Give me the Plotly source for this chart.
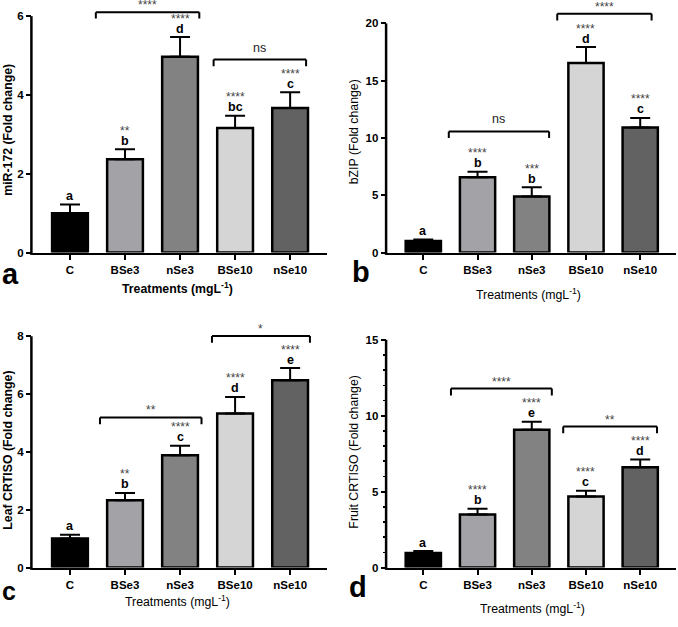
import plotly.graph_objects as go

W, H = 678, 627
FONT = "Liberation Sans, Arial, sans-serif"

# ---------------- data ----------------
categories = ["C", "BSe3", "nSe3", "BSe10", "nSe10"]
bar_colors = ["#000000", "#a3a3a7", "#828282", "#d5d5d5", "#626262"]

mir172 = [1.0, 2.37, 4.97, 3.16, 3.67]
mir172_err = [0.22, 0.25, 0.50, 0.31, 0.40]
mir172_letters = ["a", "b", "d", "bc", "c"]
mir172_stars = ["", "**", "****", "****", "****"]

bzip = [1.0, 6.57, 4.90, 16.55, 10.92]
bzip_err = [0.13, 0.48, 0.80, 1.38, 0.83]
bzip_letters = ["a", "b", "b", "d", "c"]
bzip_stars = ["", "****", "***", "****", "****"]

leaf = [1.0, 2.33, 3.88, 5.33, 6.48]
leaf_err = [0.13, 0.25, 0.33, 0.57, 0.42]
leaf_letters = ["a", "b", "c", "d", "e"]
leaf_stars = ["", "**", "****", "****", "****"]

fruit = [0.95, 3.50, 9.07, 4.68, 6.60]
fruit_err = [0.13, 0.37, 0.53, 0.38, 0.52]
fruit_letters = ["a", "b", "e", "c", "d"]
fruit_stars = ["", "****", "****", "****", "****"]

# comparison brackets: (x start, x end, bar height, leg bottom, label)
mir172_brackets = [(0.47, 2.35, 6.10, 5.94, "****"), (2.61, 4.29, 4.90, 4.73, "ns")]
bzip_brackets = [(0.47, 2.32, 10.57, 10.00, "ns"), (2.47, 4.21, 20.83, 20.25, "****")]
leaf_brackets = [(0.545, 2.39, 5.19, 4.96, "**"), (2.58, 4.36, 8.01, 7.78, "*")]
fruit_brackets = [(0.51, 2.37, 11.79, 11.33, "****"), (2.58, 4.31, 9.28, 8.85, "**")]

mir172_ticks = [0, 2, 4, 6]
bzip_ticks = [0, 5, 10, 15, 20]
leaf_ticks = [0, 2, 4, 6, 8]
fruit_ticks = [0, 5, 10, 15]
fruit_minor = list(range(0, 16))

x_title = "Treatments (mgL<sup>-1</sup>)"

# ---------------- layout geometry (pixels) ----------------
def px(x):
    return x / W

def py(y):
    return 1 - y / H

panels = [
    dict(name="a", vals=mir172, err=mir172_err, letters=mir172_letters, stars=mir172_stars,
         brackets=mir172_brackets, ticks=mir172_ticks, minor=None,
         ytitle="miR-172 (Fold change)", ybold=True, xbold=True,
         xdom=(32, 327), ydom=(255, 0), yr=6.41, xr=(-0.69, 4.67),
         ytitle_pos=(8, 131), xtitle_pos=(177.5, 290.5), letter_pos=(10, 277), letter_size=29),
    dict(name="b", vals=bzip, err=bzip_err, letters=bzip_letters, stars=bzip_stars,
         brackets=bzip_brackets, ticks=bzip_ticks, minor=None,
         ytitle="bZIP (Fold change)", ybold=False, xbold=False,
         xdom=(386.7, 676), ydom=(255, 0), yr=22.04, xr=(-0.675, 4.66),
         ytitle_pos=(353.5, 133), xtitle_pos=(528, 296.5), letter_pos=(360.5, 275), letter_size=29),
    dict(name="c", vals=leaf, err=leaf_err, letters=leaf_letters, stars=leaf_stars,
         brackets=leaf_brackets, ticks=leaf_ticks, minor=None,
         ytitle="Leaf CRTISO (Fold change)", ybold=True, xbold=False,
         xdom=(32, 327), ydom=(573, 315), yr=8.84, xr=(-0.69, 4.67),
         ytitle_pos=(8, 455), xtitle_pos=(177.5, 607), letter_pos=(9, 597), letter_size=25),
    dict(name="d", vals=fruit, err=fruit_err, letters=fruit_letters, stars=fruit_stars,
         brackets=fruit_brackets, ticks=fruit_ticks, minor=fruit_minor,
         ytitle="Fruit CRTISO (Fold change)", ybold=False, xbold=False,
         xdom=(386.7, 676), ydom=(573, 315), yr=16.83, xr=(-0.675, 4.66),
         ytitle_pos=(354, 456), xtitle_pos=(532, 614), letter_pos=(358, 593), letter_size=29),
]

fig = go.Figure()
layout = dict(width=W, height=H, margin=dict(l=0, r=0, t=0, b=0),
              plot_bgcolor="white", paper_bgcolor="white", showlegend=False,
              font=dict(family=FONT, color="black"))
annotations = []
shapes = []

for i, p in enumerate(panels, start=1):
    xa = "x" if i == 1 else f"x{i}"
    ya = "y" if i == 1 else f"y{i}"
    xkey = "xaxis" if i == 1 else f"xaxis{i}"
    ykey = "yaxis" if i == 1 else f"yaxis{i}"

    fig.add_trace(go.Bar(
        x=categories, y=p["vals"], xaxis=xa, yaxis=ya, width=0.65,
        marker=dict(color=bar_colors, line=dict(color="black", width=2.5)),
        error_y=dict(type="data", array=p["err"], arrayminus=[0] * len(p["err"]),
                     symmetric=False, color="black", thickness=2, width=10),
        hoverinfo="skip",
    ))

    xd = [px(p["xdom"][0]), px(p["xdom"][1])]
    yd = [py(p["ydom"][0]), py(p["ydom"][1])]
    layout[xkey] = dict(domain=xd, anchor=ya, range=list(p["xr"]), type="category",
                        showline=True, linecolor="black", linewidth=2.5,
                        ticks="outside", ticklen=5, tickwidth=2, tickcolor="black",
                        tickfont=dict(family=FONT, size=11.5, color="black", weight="bold"),
                        showgrid=False, zeroline=False, fixedrange=True)
    ydict = dict(domain=yd, anchor=xa, range=[0, p["yr"]], showline=False,
                 tickmode="array", tickvals=p["ticks"],
                 ticks="outside", ticklen=5, tickwidth=2, tickcolor="black",
                 tickfont=dict(family=FONT, size=11.5, color="black", weight="bold"),
                 showgrid=False, zeroline=False, fixedrange=True)
    if p["minor"] is not None:
        ydict["minor"] = dict(tickvals=p["minor"], ticks="outside", ticklen=3,
                              tickwidth=1.5, tickcolor="black", showgrid=False)
    layout[ykey] = ydict

    # y axis line up to the last tick
    top_val = p["ticks"][-1]
    y_top_paper = yd[0] + (top_val - 0) / (p["yr"] - 0) * (yd[1] - yd[0])
    shapes.append(dict(type="line", xref="paper", yref="paper",
                       x0=xd[0] - 0.6 / W, x1=xd[0] - 0.6 / W,
                       y0=yd[0] - 2.4 / H, y1=y_top_paper,
                       line=dict(color="black", width=2.5)))

    # letters and stars above bars
    for j, cat in enumerate(categories):
        top = p["vals"][j] + p["err"][j]
        annotations.append(dict(x=j, y=top, xref=xa, yref=ya, text=p["letters"][j],
                                showarrow=False, yanchor="middle", yshift=8.5,
                                font=dict(family=FONT, size=12.5, color="black", weight="bold")))
        if p["stars"][j]:
            annotations.append(dict(x=j, y=top, xref=xa, yref=ya, text=p["stars"][j],
                                    showarrow=False, yanchor="middle", yshift=18.5,
                                    font=dict(family=FONT, size=12, color="#444444")))

    # brackets
    for (x0, x1, yb, yl, lab) in p["brackets"]:
        for xs, xe, ys, ye in [(x0, x1, yb, yb), (x0, x0, yl, yb), (x1, x1, yl, yb)]:
            shapes.append(dict(type="line", xref=xa, yref=ya, x0=xs, x1=xe, y0=ys, y1=ye,
                               line=dict(color="black", width=2)))
        if lab == "ns":
            annotations.append(dict(x=(x0 + x1) / 2, y=yb, xref=xa, yref=ya, text=lab,
                                    showarrow=False, yanchor="middle", yshift=12,
                                    font=dict(family=FONT, size=12.5, color="#222222")))
        else:
            annotations.append(dict(x=(x0 + x1) / 2, y=yb, xref=xa, yref=ya, text=lab,
                                    showarrow=False, yanchor="middle", yshift=7,
                                    font=dict(family=FONT, size=12, color="#444444")))

    # axis titles and panel letter
    annotations.append(dict(x=px(p["ytitle_pos"][0]), y=py(p["ytitle_pos"][1]),
                            xref="paper", yref="paper", text=p["ytitle"], textangle=-90,
                            showarrow=False, xanchor="center", yanchor="middle",
                            font=dict(family=FONT, size=12.3, color="black",
                                      weight="bold" if p["ybold"] else "normal")))
    annotations.append(dict(x=px(p["xtitle_pos"][0]), y=py(p["xtitle_pos"][1]),
                            xref="paper", yref="paper", text=x_title,
                            showarrow=False, xanchor="center", yanchor="middle",
                            font=dict(family=FONT, size=12.3, color="black",
                                      weight="bold" if p["xbold"] else "normal")))
    annotations.append(dict(x=px(p["letter_pos"][0]), y=py(p["letter_pos"][1]),
                            xref="paper", yref="paper", text=p["name"],
                            showarrow=False, xanchor="center", yanchor="middle",
                            font=dict(family=FONT, size=p["letter_size"], color="black",
                                      weight="bold")))

layout["annotations"] = annotations
layout["shapes"] = shapes
fig.update_layout(**layout)
fig.write_html("out.html", config={"displayModeBar": False, "staticPlot": True},
               post_script="document.body.style.margin='0';document.body.style.overflow='hidden';")
